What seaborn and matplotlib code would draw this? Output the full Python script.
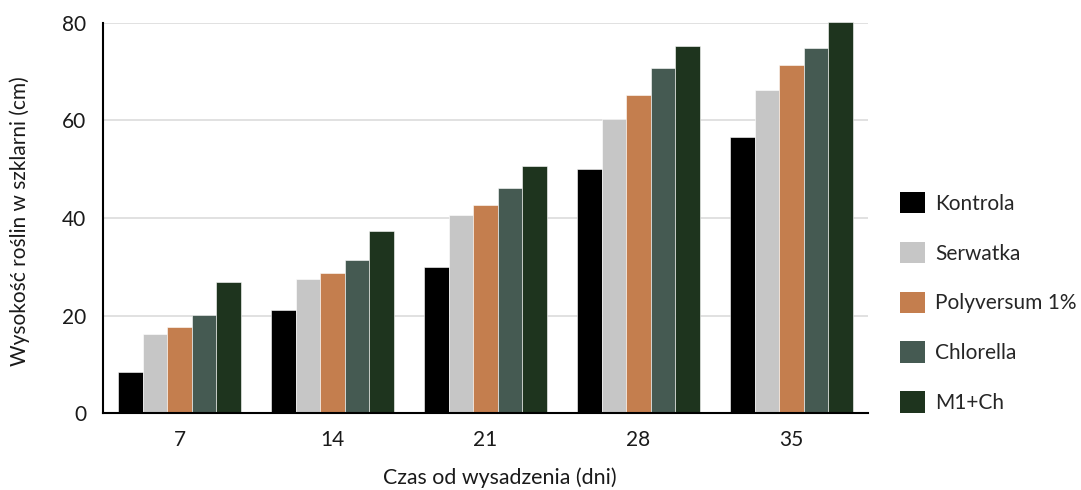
import matplotlib
matplotlib.use("Agg")
import matplotlib.pyplot as plt
import seaborn as sns
import pandas as pd
from matplotlib.patches import Patch

days = ["7", "14", "21", "28", "35"]
series = ["Kontrola", "Serwatka", "Polyversum 1%", "Chlorella", "M1+Ch"]
kontrola = [8.5, 21.1, 30.0, 50.0, 56.6]
serwatka = [16.2, 27.4, 40.6, 60.3, 66.3]
polyversum = [17.7, 28.8, 42.7, 65.2, 71.3]
chlorella = [20.2, 31.3, 46.2, 70.7, 74.8]
m1ch = [26.8, 37.4, 50.7, 75.3, 80.3]
colors = ["#000000", "#c6c6c6", "#c47e4e", "#455a52", "#1e341e"]

rows = []
for name, vals in zip(series, [kontrola, serwatka, polyversum, chlorella, m1ch]):
    for d, v in zip(days, vals):
        rows.append({"day": d, "series": name, "value": v})
df = pd.DataFrame(rows)

sns.set_theme(style="white")
plt.rcParams["font.family"] = ["Lato", "DejaVu Sans"]

fig = plt.figure(figsize=(10.81, 4.90), dpi=100)
ax = fig.add_axes([103 / 1081, 1 - 413 / 490, (868 - 103) / 1081, (413 - 23) / 490])

sns.barplot(data=df, x="day", y="value", hue="series", order=days, hue_order=series,
            palette=colors, saturation=1, width=0.8, edgecolor="white", linewidth=0.4,
            legend=False, ax=ax, zorder=3)
for p in ax.patches:
    p.set_clip_on(False)

ax.set_ylim(0, 80)
ax.set_yticks([0, 20, 40, 60, 80])
ax.yaxis.grid(True, color="#dcdcdc", linewidth=1.2, zorder=0)
ax.set_axisbelow(True)
for s in ["top", "right"]:
    ax.spines[s].set_visible(False)
for s in ["left", "bottom"]:
    ax.spines[s].set_color("black")
    ax.spines[s].set_linewidth(1.5)
    ax.spines[s].set_zorder(4)
ax.tick_params(axis="both", length=0, colors="#1a1a1a")
ax.tick_params(axis="y", pad=12, labelsize=15)
ax.tick_params(axis="x", pad=12, labelsize=15)
ax.set_xlabel("Czas od wysadzenia (dni)", fontsize=15.4, color="#1a1a1a", va="center")
ax.xaxis.set_label_coords((500 - 103) / 765, (413 - 478) / 390)
ax.set_ylabel("Wysokość roślin w szklarni (cm)", fontsize=15, color="#1a1a1a", va="center")
ax.yaxis.set_label_coords((20 - 103) / 765, (413 - 221) / 390)

handles = [Patch(facecolor=c, edgecolor="none") for c in colors]
fig.legend(handles, series, loc="center left", bbox_to_anchor=(900 / 1081, 1 - 302.5 / 490),
           frameon=False, fontsize=15, handlelength=1.2, handleheight=1.2,
           labelspacing=1.35, handletextpad=0.5, borderpad=0, borderaxespad=0)

fig.savefig("out.png", dpi=100)
